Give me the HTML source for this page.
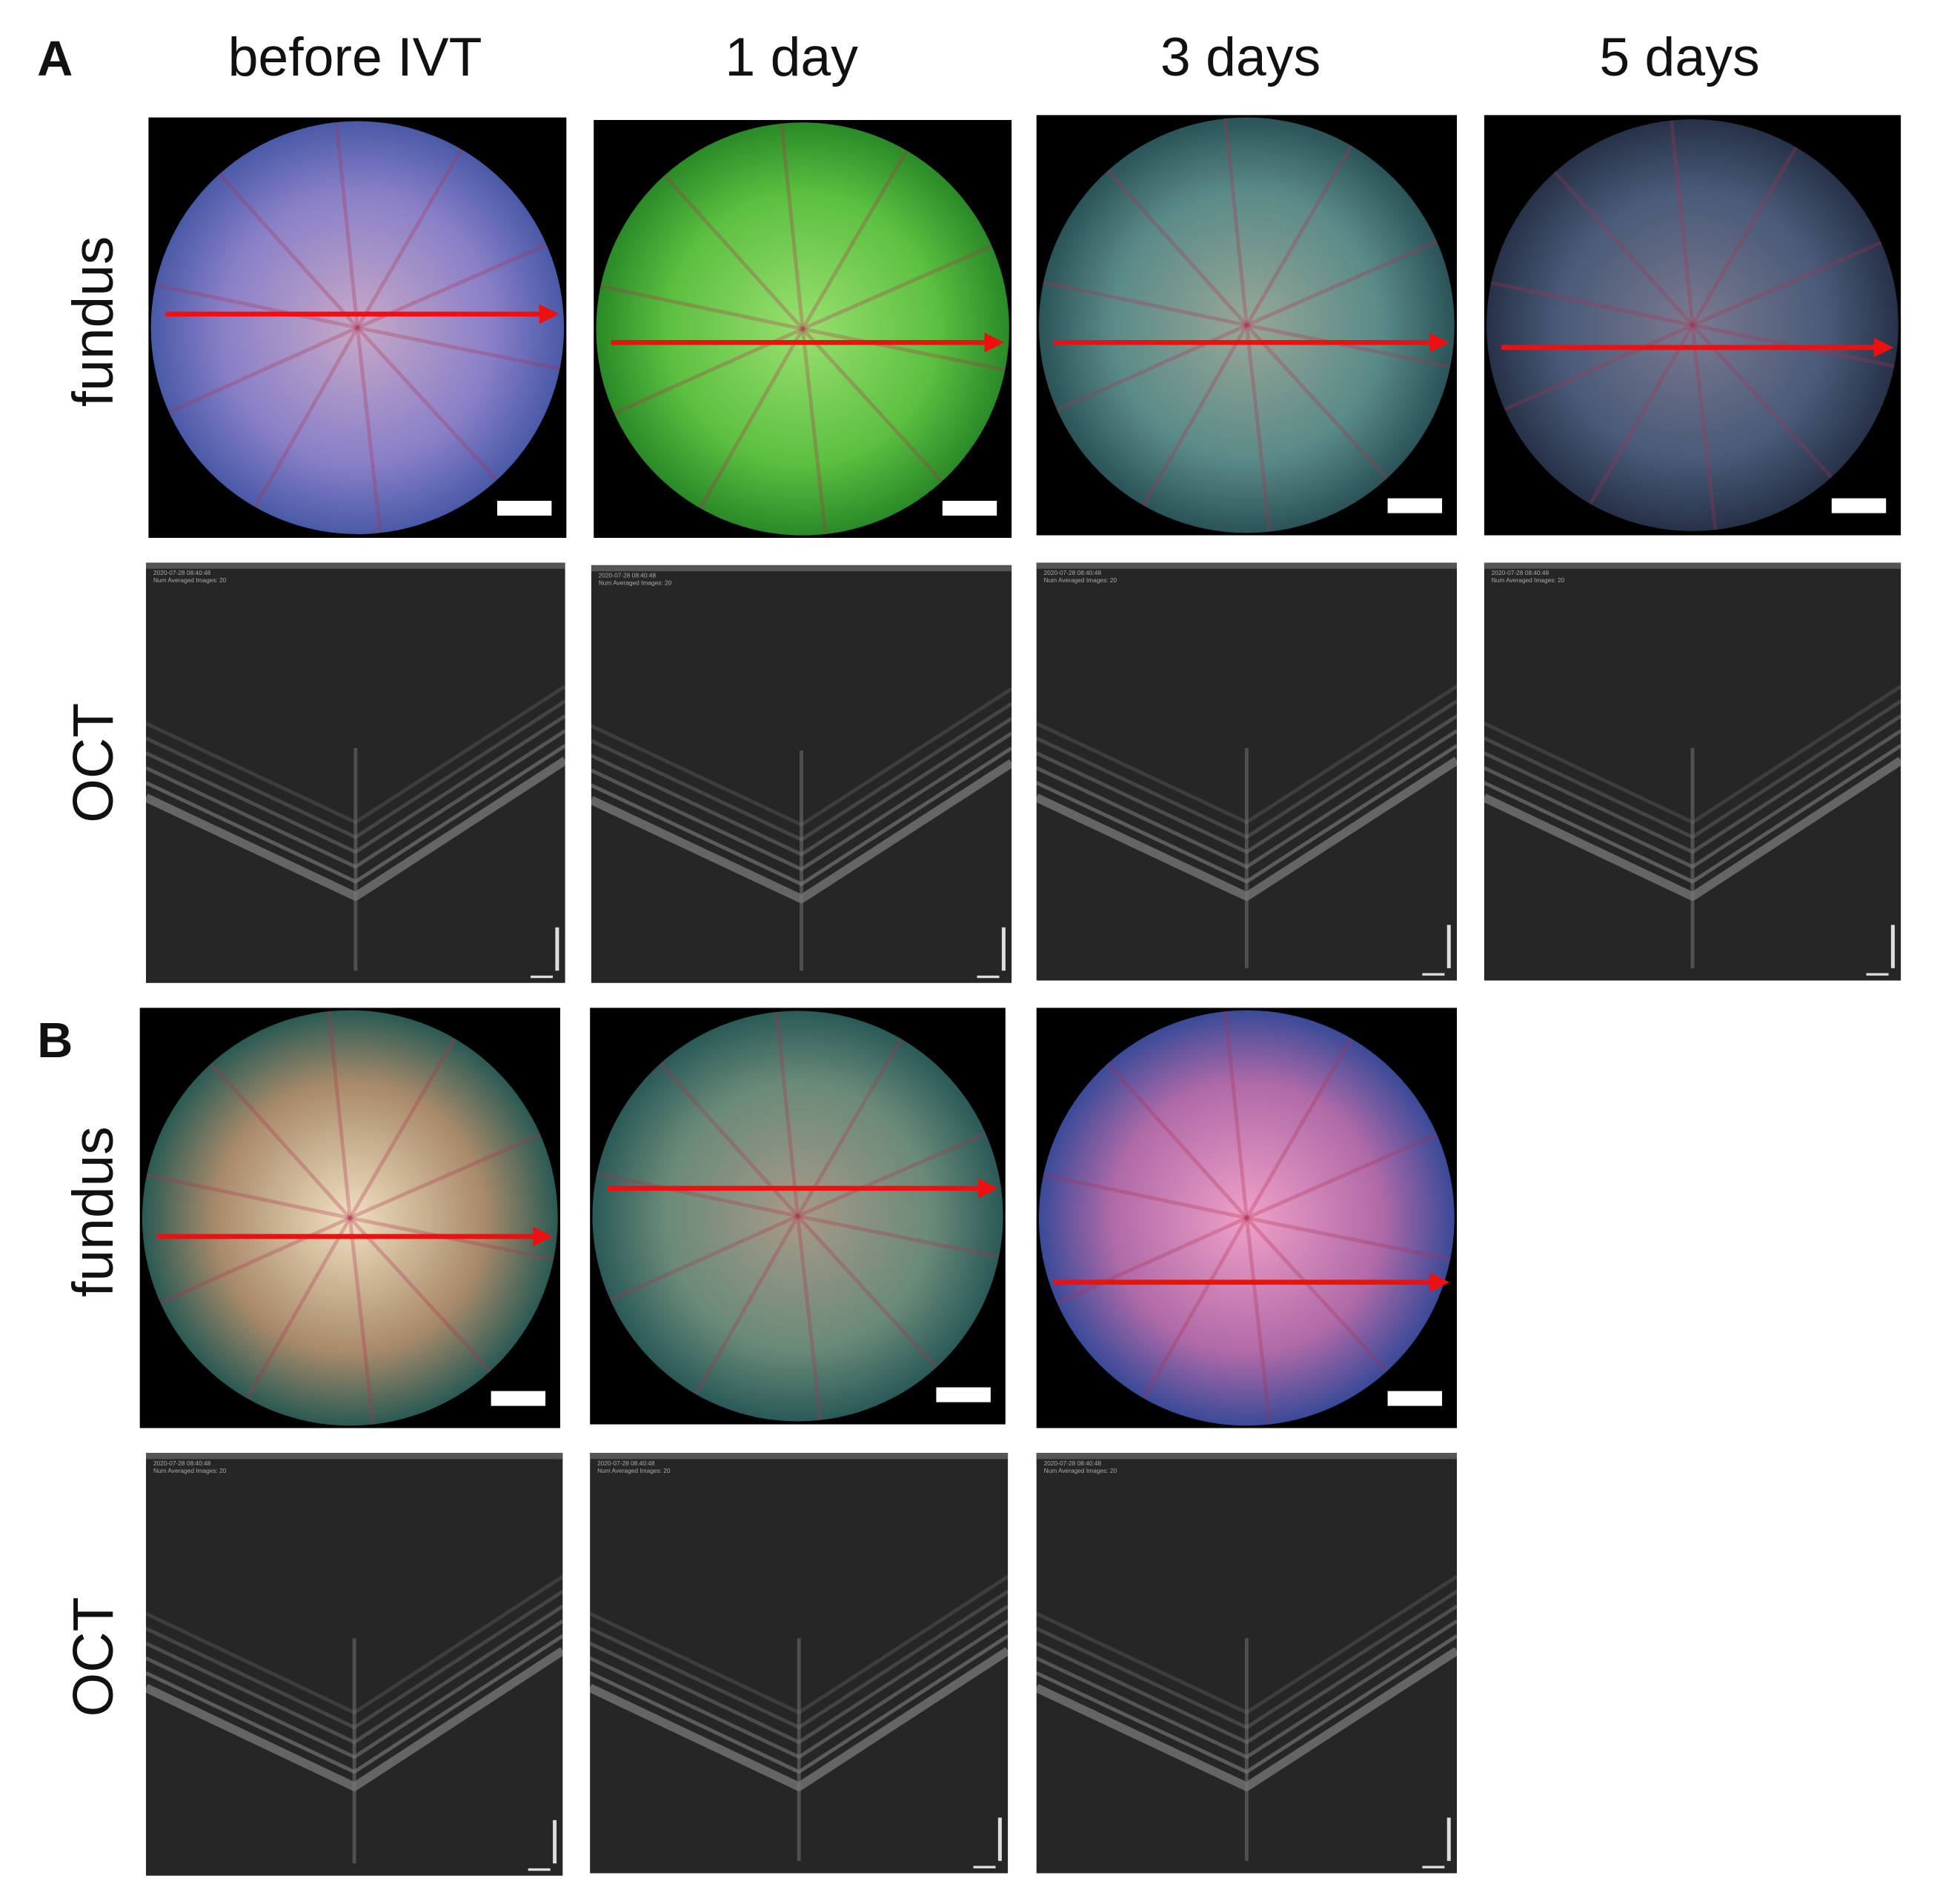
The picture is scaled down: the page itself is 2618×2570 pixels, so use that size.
<!DOCTYPE html>
<html><head><meta charset="utf-8">
<style>
html,body{margin:0;padding:0;background:#fff;}
body{width:2618px;height:2570px;overflow:hidden;position:relative;}
#wrap{position:absolute;left:0;top:0;width:1570px;height:1540px;transform:scale(1.669);transform-origin:0 0;font-family:"Liberation Sans",sans-serif;}
.t{position:absolute;color:#111;font-size:44px;transform:translateX(-50%);white-space:nowrap;top:22px;}
.lab{position:absolute;font-weight:bold;font-size:40px;color:#111;}
.rl{position:absolute;font-size:46px;color:#111;transform:translate(-50%,-50%) rotate(-90deg);white-space:nowrap;}
.p{position:absolute;}
svg{display:block}
</style></head><body>
<div id="wrap">
<div class="lab" style="left:30px;top:26px">A</div>
<div class="lab" style="left:30px;top:820px">B</div>
<div class="t" style="left:287px">before IVT</div>
<div class="t" style="left:640px">1 day</div>
<div class="t" style="left:1003px">3 days</div>
<div class="t" style="left:1358px">5 days</div>
<div class="rl" style="left:75px;top:260px">fundus</div>
<div class="rl" style="left:75px;top:617px">OCT</div>
<div class="rl" style="left:75px;top:980px">fundus</div>
<div class="rl" style="left:75px;top:1340px">OCT</div>
<div id="panels"></div>
</div>
<script>
const NS='http://www.w3.org/2000/svg';
const fundus=[
 {x:120,y:95,w:338,h:340,c1:'#c7a9c8',c2:'#8a80c8',c3:'#4a5aa8',ay:254,name:'fundus-a-before'},
 {x:480,y:97,w:338,h:338,c1:'#9ae070',c2:'#5cc040',c3:'#2a8a28',ay:277,name:'fundus-a-1day'},
 {x:838,y:93,w:340,h:340,c1:'#98a898',c2:'#5a8a88',c3:'#2a5458',ay:277,name:'fundus-a-3days'},
 {x:1200,y:93,w:337,h:340,c1:'#7a7a90',c2:'#4a5a78',c3:'#263248',ay:281,name:'fundus-a-5days'},
 {x:113,y:815,w:340,h:340,c1:'#f0e0c0',c2:'#a88a6a',c3:'#2a5a54',ay:1000,name:'fundus-b-before'},
 {x:477,y:815,w:336,h:337,c1:'#a89a8a',c2:'#6a8a78',c3:'#2a5a58',ay:961,name:'fundus-b-1day'},
 {x:838,y:815,w:340,h:340,c1:'#f0a0c8',c2:'#b06aa8',c3:'#3a4a98',ay:1037,name:'fundus-b-3days'}
];
const oct=[
 {x:118,y:455,w:339,h:340,name:'oct-a-before'},
 {x:478,y:457,w:340,h:338,name:'oct-a-1day'},
 {x:838,y:455,w:340,h:338,name:'oct-a-3days'},
 {x:1200,y:455,w:337,h:338,name:'oct-a-5days'},
 {x:118,y:1175,w:337,h:342,name:'oct-b-before'},
 {x:477,y:1175,w:338,h:340,name:'oct-b-1day'},
 {x:838,y:1175,w:340,h:340,name:'oct-b-3days'}
];
const host=document.getElementById('panels');
fundus.forEach((f,i)=>{
 const s=document.createElementNS(NS,'svg');
 
 
 s.setAttribute('class','p');s.style.left=f.x+'px';s.style.top=f.y+'px';
 s.setAttribute('width',f.w);s.setAttribute('height',f.h);
 const cx=f.w/2,cy=f.h/2,r=Math.min(f.w,f.h)/2-2,ly=f.ay-f.y;
 let rays='';
 for(let k=0;k<10;k++){const a=k*0.63+0.2;rays+=`<line x1="${cx}" y1="${cy}" x2="${cx+Math.cos(a)*r}" y2="${cy+Math.sin(a)*r}" stroke="#b03050" stroke-opacity="0.3" stroke-width="3"/>`;}
 s.innerHTML=`<defs><radialGradient id="g${i}" cx="50%" cy="50%" r="50%"><stop offset="0" stop-color="${f.c1}"/><stop offset="0.65" stop-color="${f.c2}"/><stop offset="1" stop-color="${f.c3}"/></radialGradient><clipPath id="c${i}"><circle cx="${cx}" cy="${cy}" r="${r}"/></clipPath></defs>
 <rect width="${f.w}" height="${f.h}" fill="#000"/><circle cx="${cx}" cy="${cy}" r="${r}" fill="url(#g${i})"/>
 <g clip-path="url(#c${i})">${rays}</g>
 <line x1="14" y1="${ly}" x2="${f.w-18}" y2="${ly}" stroke="#ee1010" stroke-width="4"/>
 <polygon points="${f.w-6},${ly} ${f.w-22},${ly-8} ${f.w-22},${ly+8}" fill="#ee1010"/>
 <rect x="${f.w-56}" y="${f.h-30}" width="44" height="12" fill="#fff"/>`;
 host.appendChild(s);
});
oct.forEach((o,i)=>{
 const s=document.createElementNS(NS,'svg');
 
 
 s.setAttribute('class','p');s.style.left=o.x+'px';s.style.top=o.y+'px';
 s.setAttribute('width',o.w);s.setAttribute('height',o.h);
 const w=o.w,h=o.h;
 let bands='';
 for(let k=0;k<6;k++){const y0=100+k*12, yb=y0+150;bands+=`<path d="M0 ${y0+30} L${w/2} ${yb-40} L${w} ${y0}" fill="none" stroke="#999" stroke-opacity="${0.2+k*0.07}" stroke-width="${k==5?7:3}" stroke-linejoin="round"/>`;}
 s.innerHTML=`<rect width="${w}" height="${h}" fill="#262626"/>
 <rect width="${w}" height="5" fill="#555"/>
 <text x="6" y="10" font-size="5" fill="#aaa" font-family="Liberation Sans">2020-07-28 08:40:48</text>
 <text x="6" y="16" font-size="5" fill="#aaa" font-family="Liberation Sans">Num Averaged Images: 20</text>
 ${bands}
 <line x1="${w/2}" y1="150" x2="${w/2}" y2="${h-10}" stroke="#777" stroke-width="3" stroke-opacity="0.5"/>
 <rect x="${w-8}" y="${h-45}" width="3" height="35" fill="#ddd"/>
 <rect x="${w-28}" y="${h-6}" width="18" height="2" fill="#ddd"/>`;
 host.appendChild(s);
});
</script>
</body></html>
